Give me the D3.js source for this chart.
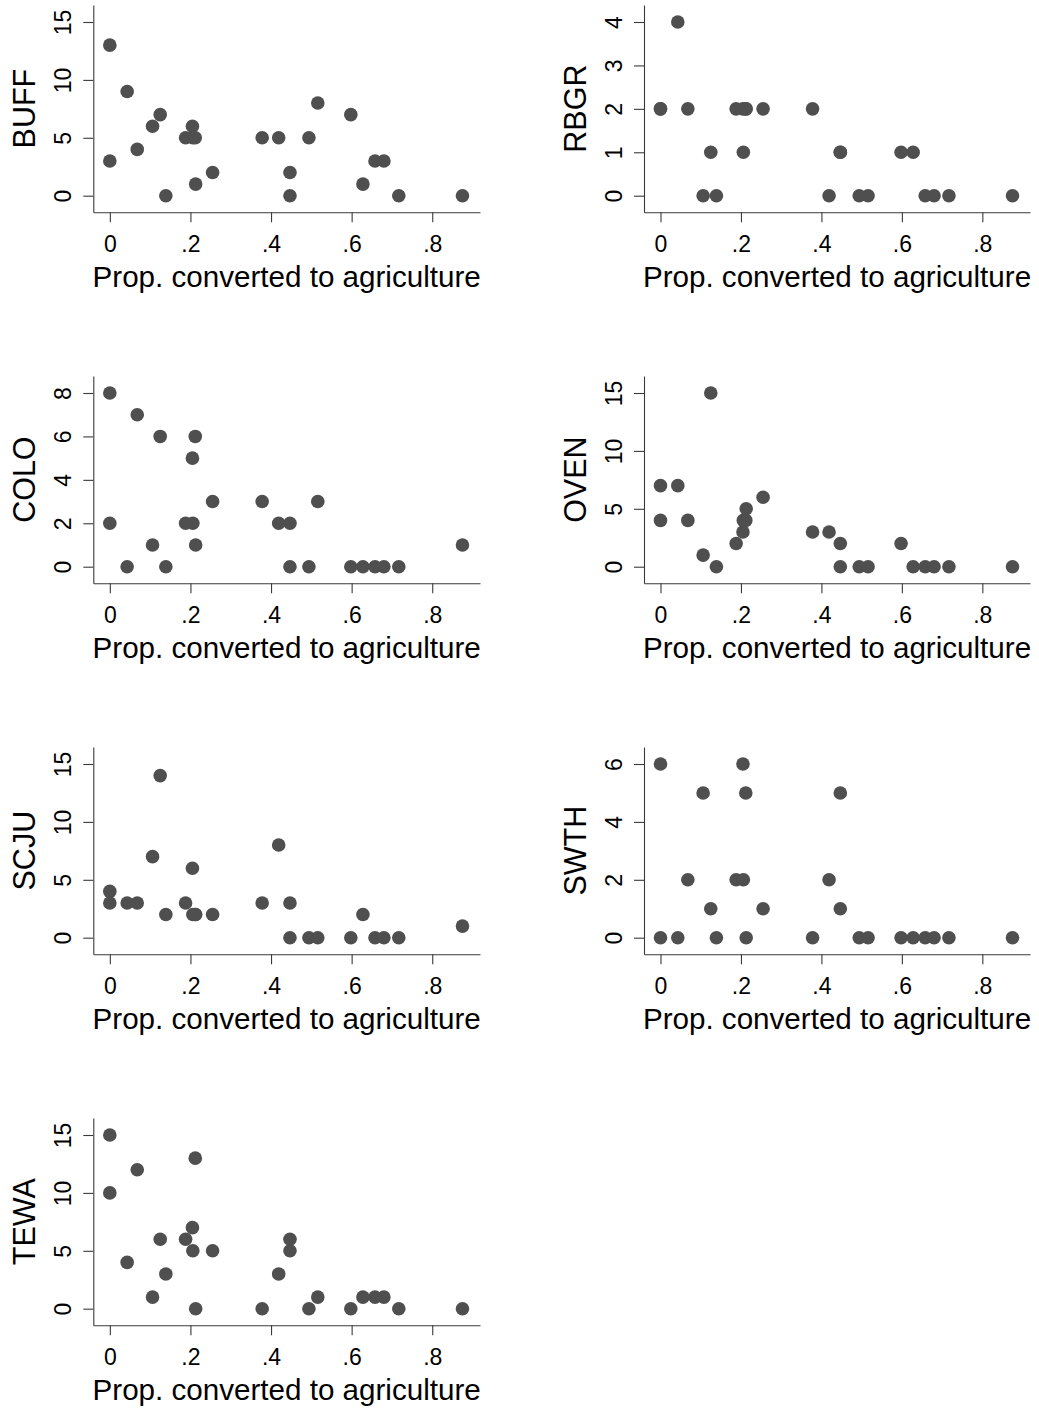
<!DOCTYPE html>
<html>
<head>
<meta charset="utf-8">
<script src="https://cdn.jsdelivr.net/npm/d3@7"></script>
<style>
  html, body { margin: 0; padding: 0; background: #ffffff; }
  svg { display: block; }
</style>
</head>
<body>
<div id="chart"></div>
<script>
// Proportion of each site converted to agriculture (shared x values)
const siteProp = [0, 0, 0.043, 0.068, 0.106, 0.125, 0.139, 0.188, 0.205, 0.206, 0.212, 0.213,
  0.255, 0.378, 0.419, 0.447, 0.447, 0.494, 0.516, 0.598, 0.628, 0.658, 0.680, 0.717, 0.875];

// Counts per species (one per site, same order as siteProp)
const BUFF = [13, 3, 9, 4, 6, 7, 0, 5, 6, 5, 5, 1, 2, 5, 5, 2, 0, 5, 8, 7, 1, 3, 3, 0, 0];
const RBGR = [2, 2, 4, 2, 0, 1, 0, 2, 2, 1, 2, 2, 2, 2, 0, 1, 1, 0, 0, 1, 1, 0, 0, 0, 0];
const COLO = [8, 2, 0, 7, 1, 6, 0, 2, 5, 2, 6, 1, 3, 3, 2, 2, 0, 0, 3, 0, 0, 0, 0, 0, 1];
const OVEN = [7, 4, 7, 4, 1, 15, 0, 2, 3, 4, 4, 5, 6, 3, 3, 2, 0, 0, 0, 2, 0, 0, 0, 0, 0];
const SCJU = [4, 3, 3, 3, 7, 14, 2, 3, 6, 2, 2, 2, 2, 3, 8, 3, 0, 0, 0, 0, 2, 0, 0, 0, 1];
const SWTH = [6, 0, 0, 2, 5, 1, 0, 2, 6, 2, 5, 0, 1, 0, 2, 5, 1, 0, 0, 0, 0, 0, 0, 0, 0];
const TEWA = [15, 10, 4, 12, 1, 6, 3, 6, 7, 5, 13, 0, 5, 0, 3, 6, 5, 0, 1, 0, 1, 1, 1, 0, 0];

const speciesNames = ["BUFF", "RBGR", "COLO", "OVEN", "SCJU", "SWTH", "TEWA"];
const speciesValues = [BUFF, RBGR, COLO, OVEN, SCJU, SWTH, TEWA];
const yTicks = [[0, 5, 10, 15], [0, 1, 2, 3, 4], [0, 2, 4, 6, 8], [0, 5, 10, 15],
                [0, 5, 10, 15], [0, 2, 4, 6], [0, 5, 10, 15]];
const xTicks = [0, 0.2, 0.4, 0.6, 0.8];
const xTickLabels = ["0", ".2", ".4", ".6", ".8"];
const xTitle = "Prop. converted to agriculture";

const W = 1039, H = 1410;
const FONT = "'Liberation Sans', Arial, Helvetica, sans-serif";
const markerColor = "#4f4f4f";
const axisColor = "#3a3a3a";

const svg = d3.select("#chart").append("svg")
  .attr("width", W).attr("height", H)
  .attr("viewBox", `0 0 ${W} ${H}`);

const colLeft = [93.3, 644];
const colRight = [480, 1030];
const rowStep = 371;

speciesNames.forEach((name, i) => {
  const col = i % 2, row = Math.floor(i / 2);
  const left = colLeft[col], right = colRight[col];
  const top = row * rowStep + 5, bottom = row * rowStep + 212.3;
  const ymax = d3.max(yTicks[i]);

  const x = d3.scaleLinear().domain([-0.041, 0.9185]).range([left, right]);
  const y = d3.scaleLinear().domain([-0.0956 * ymax, 1.0979 * ymax]).range([bottom, top]);

  const g = svg.append("g");

  // x axis
  const gx = g.append("g")
    .attr("transform", `translate(0,${bottom})`)
    .call(d3.axisBottom(x).tickValues(xTicks)
      .tickFormat((d, k) => xTickLabels[k])
      .tickSize(10).tickSizeOuter(0).tickPadding(13.5));
  gx.selectAll("path, line").attr("stroke", axisColor).attr("stroke-width", 1.1);
  gx.selectAll("text").attr("font-family", FONT).attr("font-size", 23).attr("fill", "#000");

  // y axis
  const gy = g.append("g")
    .attr("transform", `translate(${left},0)`)
    .call(d3.axisLeft(y).tickValues(yTicks[i]).tickFormat(d3.format("d"))
      .tickSize(10).tickSizeOuter(0));
  gy.selectAll("path, line").attr("stroke", axisColor).attr("stroke-width", 1.1);
  gy.selectAll("text")
    .attr("x", null).attr("dy", null).attr("y", null)
    .attr("text-anchor", "middle")
    .attr("transform", "translate(-22,0) rotate(-90)")
    .attr("font-family", FONT).attr("font-size", 23).attr("fill", "#000");

  // axis titles
  g.append("text")
    .attr("x", (left + right) / 2).attr("y", bottom + 75)
    .attr("text-anchor", "middle")
    .attr("font-family", FONT).attr("font-size", 29.6).attr("fill", "#000")
    .text(xTitle);
  g.append("text")
    .attr("transform", `translate(${left - 58.5},${(top + bottom) / 2}) rotate(-90)`)
    .attr("text-anchor", "middle")
    .attr("font-family", FONT).attr("font-size", 30.5).attr("fill", "#000")
    .text(name);

  // points
  const vals = speciesValues[i];
  g.append("g").selectAll("circle")
    .data(siteProp.map((p, k) => ({ p, v: vals[k] })))
    .join("circle")
    .attr("cx", d => x(d.p))
    .attr("cy", d => y(d.v))
    .attr("r", 6.8)
    .attr("fill", markerColor);
});
</script>
</body>
</html>
